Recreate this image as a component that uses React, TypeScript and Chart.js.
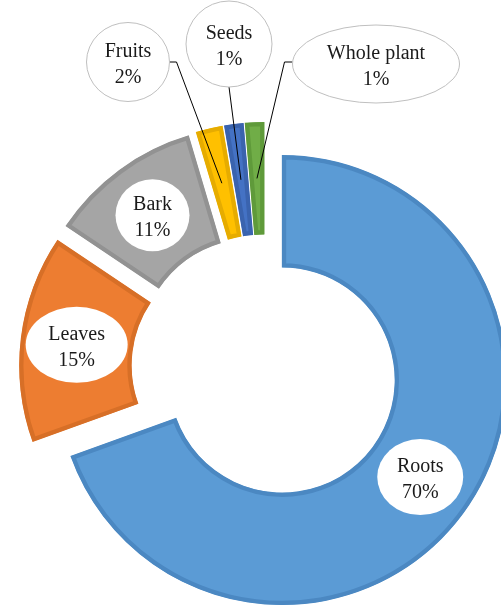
import React, { useEffect, useRef } from "react";
import { Chart, registerables } from "chart.js";

Chart.register(...registerables);

// ---- Data ----
const categories = ["Roots", "Leaves", "Bark", "Fruits", "Seeds", "Whole plant"];
const shares = [69.5, 14.9, 11.0, 1.9, 1.35, 1.35];
const fillColors = ["#5B9BD5", "#ED7D31", "#A5A5A5", "#FFC000", "#4472C4", "#70AD47"];
const borderColors = ["#4B88C2", "#D76F27", "#929292", "#E6AC00", "#3A63AE", "#5F9A3A"];
// label placement: inside (at slice centroid) or outside callout with offset from chart center
const labelOutside = [false, false, false, true, true, true];
const labelOffsetX = [0, 0, 0, -137, -36, 111];
const labelOffsetY = [0, 0, 0, -306, -324, -304];
const labelRX = [43, 51, 37, 41.5, 43, 83.5];
const labelRY = [38, 38, 36, 39.5, 43, 39];

const EXPLODE = 21;
const FONT = '20px "Liberation Serif", "Times New Roman", serif';

const explodePlugin = {
  id: "explode",
  beforeDatasetDraw(chart: any, args: any) {
    const ctx = chart.ctx;
    args.meta.data.forEach((arc: any) => {
      const mid = (arc.startAngle + arc.endAngle) / 2;
      ctx.save();
      ctx.translate(Math.cos(mid) * EXPLODE, Math.sin(mid) * EXPLODE);
      arc.draw(ctx);
      ctx.restore();
    });
    return false;
  },
};

const labelPlugin = {
  id: "calloutLabels",
  afterDatasetsDraw(chart: any) {
    const ctx = chart.ctx;
    const meta = chart.getDatasetMeta(0);
    const total = shares.reduce((a, b) => a + b, 0);
    meta.data.forEach((arc: any, i: number) => {
      const mid = (arc.startAngle + arc.endAngle) / 2;
      const rr = (arc.innerRadius + arc.outerRadius) / 2 + EXPLODE;
      const px = arc.x + Math.cos(mid) * rr;
      const py = arc.y + Math.sin(mid) * rr;
      let cx = px;
      let cy = py;
      const rx = labelRX[i];
      const ry = labelRY[i];
      ctx.save();
      if (labelOutside[i]) {
        cx = arc.x + labelOffsetX[i];
        cy = arc.y + labelOffsetY[i];
        ctx.strokeStyle = "#000000";
        ctx.lineWidth = 1;
        ctx.beginPath();
        if (cx + rx < px - 20) {
          ctx.moveTo(cx + rx, cy);
          ctx.lineTo(cx + rx + 7, cy);
        } else if (cx - rx > px + 20) {
          ctx.moveTo(cx - rx, cy - 2);
          ctx.lineTo(cx - rx - 8, cy - 2);
        } else {
          ctx.moveTo(cx, cy + ry);
        }
        ctx.lineTo(px, py);
        ctx.stroke();
      }
      ctx.beginPath();
      ctx.ellipse(cx, cy, rx, ry, 0, 0, Math.PI * 2);
      ctx.fillStyle = "#FFFFFF";
      ctx.fill();
      ctx.strokeStyle = labelOutside[i] ? "#BFBFBF" : "rgba(255,255,255,0)";
      ctx.lineWidth = 1;
      ctx.stroke();
      ctx.fillStyle = "#1A1A1A";
      ctx.font = FONT;
      ctx.textAlign = "center";
      ctx.textBaseline = "alphabetic";
      ctx.fillText(categories[i], cx, cy - 5);
      ctx.fillText(Math.round((shares[i] / total) * 100) + "%", cx, cy + 21);
      ctx.restore();
    });
  },
};

export default function App() {
  const canvasRef = useRef<HTMLCanvasElement | null>(null);

  useEffect(() => {
    if (!canvasRef.current) return;
    const chart = new Chart(canvasRef.current, {
      type: "doughnut",
      data: {
        labels: categories,
        datasets: [
          {
            data: shares,
            backgroundColor: fillColors,
            borderColor: borderColors,
            borderWidth: 4,
            borderAlign: "inner",
            clip: false,
          } as any,
        ],
      },
      options: {
        responsive: false,
        animation: false,
        radius: 225,
        cutout: "50%",
        layout: { padding: { left: 29, right: 0, top: 129, bottom: 0 } },
        plugins: {
          legend: { display: false },
          tooltip: { enabled: false },
        },
        events: [],
      } as any,
      plugins: [explodePlugin, labelPlugin],
    });
    return () => chart.destroy();
  }, []);

  return (
    <div style={{ position: "absolute", left: 0, top: 0, width: 501, height: 607, background: "#FFFFFF" }}>
      <canvas ref={canvasRef} width={501} height={607} />
    </div>
  );
}
